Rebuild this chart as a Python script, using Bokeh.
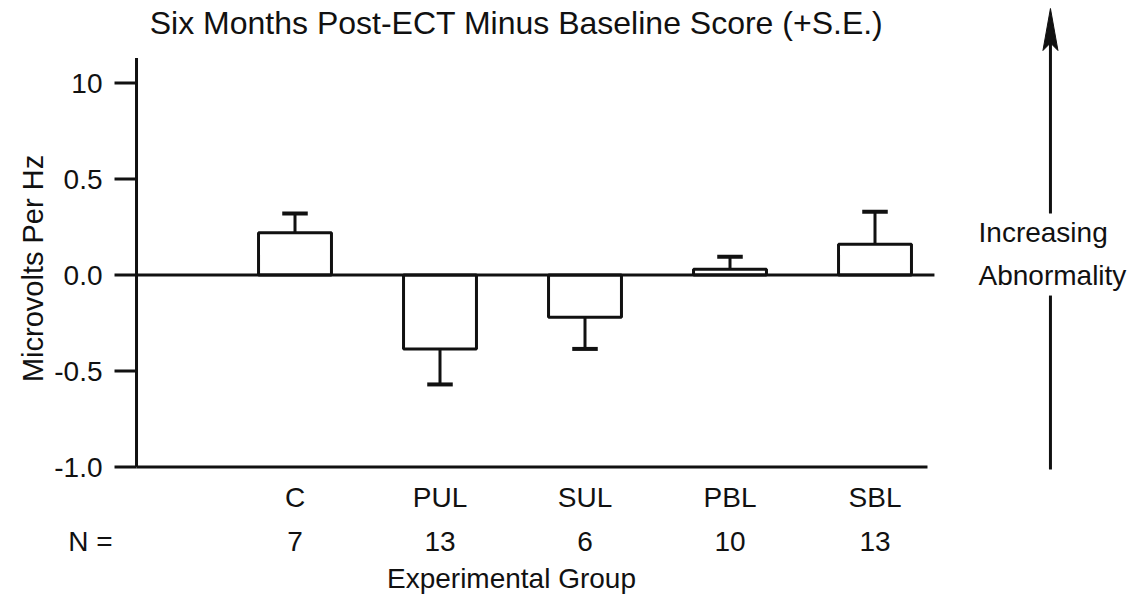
import math
from bokeh.plotting import figure
from bokeh.models import Range1d
from bokeh.core.properties import value
from bokeh.embed import file_html
from bokeh.resources import INLINE

# ---- data ----
groups = ["C", "PUL", "SUL", "PBL", "SBL"]
n_values = ["7", "13", "6", "10", "13"]
means = [0.22, -0.385, -0.22, 0.03, 0.16]
se = [0.10, 0.185, 0.165, 0.065, 0.17]
y_ticks = [-1.0, -0.5, 0.0, 0.5, 1.0]
y_tick_labels = ["-1.0", "-0.5", "0.0", "0.5", "10"]
title_text = "Six Months Post-ECT Minus Baseline Score (+S.E.)"
y_title = "Microvolts Per Hz"
x_title = "Experimental Group"
n_title = "N ="
side_text = ["Increasing", "Abnormality"]

# ---- style / layout constants (data units: 1 x-unit = 145 px, 1 y-unit = 192 px) ----
FONT = "Liberation Sans"
INK = "#111111"
W, H = 1135, 596
PX, PY = 145.0, 192.0
X0, Y0 = 294.5, 274.5          # pixel position of group 0 / value 0
AX = -1.093                     # y-axis position
Y_TOP = 1.13                    # top of the axis line
X_END_ZERO = 4.41
X_END_BASE = 4.362
TICK = 22 / PX
BAR_W = 0.503
CAP = 0.088
ARR_X = 5.21
ARR_TOP = 1.388
HEAD_L = 42 / PY
HEAD_HW = 7.5 / PX

pos = list(range(len(groups)))
ends = [m + (s if m >= 0 else -s) for m, s in zip(means, se)]

p = figure(width=W, height=H,
           x_range=Range1d(-X0 / PX, (W - X0) / PX),
           y_range=Range1d((Y0 - H) / PY, Y0 / PY),
           x_axis_location=None, y_axis_location=None,
           output_backend="svg", toolbar_location=None,
           min_border=0, background_fill_color="white", border_fill_color="white")
p.outline_line_color = None
p.grid.visible = False

# axis line, baseline
p.segment(x0=[AX], y0=[y_ticks[0]], x1=[AX], y1=[Y_TOP], line_color=INK, line_width=3)
p.segment(x0=[AX], y0=[y_ticks[0]], x1=[X_END_BASE], y1=[y_ticks[0]], line_color=INK, line_width=3)
# ticks and tick labels
p.segment(x0=[AX - TICK] * len(y_ticks), y0=y_ticks, x1=[AX] * len(y_ticks), y1=y_ticks,
          line_color=INK, line_width=3)
p.text(x=[AX - 34 / PX] * len(y_ticks), y=y_ticks, text=y_tick_labels,
       text_align="right", text_baseline="middle", text_font=value(FONT),
       text_font_size=value("28px"), text_color=INK)
p.text(x=[-1.804], y=[0.034], text=[y_title], angle=math.pi / 2,
       text_align="center", text_baseline="middle", text_font=value(FONT),
       text_font_size=value("29px"), text_color=INK)

# bars
p.vbar(x=pos, top=means, bottom=0, width=BAR_W, fill_color="white",
       line_color=INK, line_width=3)
# zero line
p.segment(x0=[AX], y0=[0], x1=[X_END_ZERO], y1=[0], line_color=INK, line_width=3)
# error bars
p.segment(x0=pos, y0=means, x1=pos, y1=ends, line_color=INK, line_width=3)
p.segment(x0=[x - CAP for x in pos], y0=ends, x1=[x + CAP for x in pos], y1=ends,
          line_color=INK, line_width=4)

# bottom texts
p.text(x=pos, y=[-1.159] * len(pos), text=groups, text_align="center", text_baseline="middle",
       text_font=value(FONT), text_font_size=value("28px"), text_color=INK)
p.text(x=pos + [-1.41], y=[-1.388] * (len(pos) + 1), text=n_values + [n_title],
       text_align="center", text_baseline="middle",
       text_font=value(FONT), text_font_size=value("28px"), text_color=INK)
p.text(x=[1.493], y=[-1.581], text=[x_title], text_align="center", text_baseline="middle",
       text_font=value(FONT), text_font_size=value("28px"), text_color=INK)

# title
p.text(x=[1.528], y=[1.31], text=[title_text], text_align="center", text_baseline="middle",
       text_font=value(FONT), text_font_size=value("32px"), text_color=INK)

# side annotation
p.text(x=[4.714, 4.714], y=[0.222, -0.005], text=side_text, text_align="left",
       text_baseline="middle", text_font=value(FONT), text_font_size=value("28px"),
       text_color=INK)
# arrow: upper shaft, head, lower shaft
p.segment(x0=[ARR_X, ARR_X], y0=[0.320, -0.107], x1=[ARR_X, ARR_X],
          y1=[ARR_TOP - HEAD_L * 0.8, -1.013], line_color=INK, line_width=3)
p.patch(x=[ARR_X, ARR_X + HEAD_HW, ARR_X, ARR_X - HEAD_HW],
        y=[ARR_TOP, ARR_TOP - HEAD_L, ARR_TOP - HEAD_L * 0.82, ARR_TOP - HEAD_L],
        fill_color=INK, line_color=INK, line_width=1)

open("out.html", "w").write(file_html(p, INLINE))
